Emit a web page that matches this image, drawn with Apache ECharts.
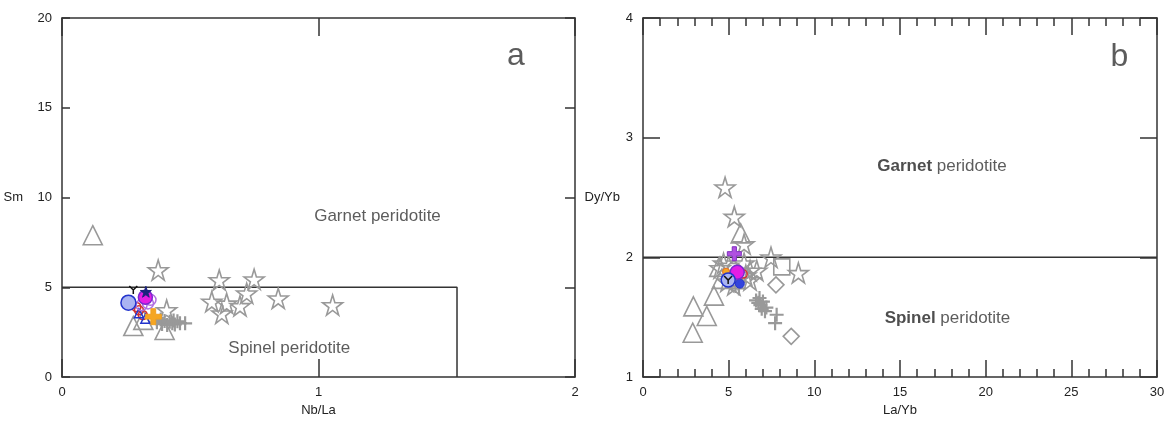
<!DOCTYPE html>
<html>
<head>
<meta charset="utf-8">
<script src="https://cdn.jsdelivr.net/npm/echarts@6/dist/echarts.min.js"></script>
<style>
  html, body { margin: 0; padding: 0; background: #fff; }
  #chart { width: 1168px; height: 424px; }
</style>
</head>
<body>
<div id="chart"></div>
<script>
// panel a : Sm vs Nb/La
const aStars = [[0.375, 5.96], [0.613, 5.40], [0.749, 5.44], [0.72, 4.66], [0.584, 4.2], [0.642, 4.1],
  [0.694, 3.96], [0.623, 3.55], [0.843, 4.38], [1.055, 4.01], [0.408, 3.73]];
const aTriangles = [[0.12, 7.9], [0.278, 2.84], [0.40, 2.62], [0.317, 3.18]];
const aPlus = [[0.37, 3.05], [0.39, 2.95], [0.40, 3.12], [0.41, 2.9], [0.42, 3.08], [0.43, 3.0],
  [0.44, 2.93], [0.45, 3.1], [0.46, 3.0], [0.48, 2.99], [0.385, 3.2], [0.435, 3.15]];
const aBlueCircle = [[0.259, 4.14]];
const aMagenta = [[0.325, 4.44]];
const aViolet = [[0.335, 4.1], [0.345, 4.3], [0.31, 4.0]];
const aRed = [[0.30, 3.72], [0.315, 3.45], [0.29, 3.9]];
const aBlue = [[0.3, 3.55], [0.325, 3.25]];
const aOrange = [[0.356, 3.36]];
const aNavyStar = [[0.327, 4.75]];
const aYmark = [[0.278, 4.85]];
const aBoundary = [[0, 5], [1.54, 5], [1.54, 0]];

// panel b : Dy/Yb vs La/Yb
const bStars = [[4.79, 2.585], [5.33, 2.34], [5.90, 2.11], [7.47, 2.0], [9.07, 1.87], [4.5, 1.91],
  [6.25, 1.89], [6.64, 1.89], [6.25, 1.81], [4.7, 1.95], [5.0, 1.93], [5.9, 1.95], [6.0, 1.85],
  [5.3, 1.77], [4.9, 1.8]];
const bTriangles = [[5.70, 2.20], [4.14, 1.68], [2.94, 1.59], [3.72, 1.51], [2.90, 1.37], [4.6, 1.82], [4.45, 1.92]];
const bSquares = [[8.10, 1.92]];
const bDiamonds = [[7.76, 1.77], [8.65, 1.34]];
const bPlus = [[6.73, 1.62], [6.93, 1.57], [7.12, 1.55], [7.80, 1.52], [7.71, 1.45], [6.6, 1.64],
  [6.85, 1.6], [7.0, 1.63], [7.2, 1.58], [6.8, 1.66], [5.4, 1.76], [5.6, 1.74]];
const bVioletPlus = [[5.33, 2.03]];
const bMagenta = [[5.5, 1.875]];
const bBlueCircle = [[4.97, 1.81]];
const bOrange = [[4.85, 1.88]];
const bRed = [[5.85, 1.86]];
const bBlue = [[5.65, 1.78]];
const bBoundary = [[0, 2], [30, 2]];

const xTicksA = [0, 1, 2];
const yTicksA = [0, 5, 10, 15, 20];
const xTicksB = [0, 5, 10, 15, 20, 25, 30];
const yTicksB = [1, 2, 3, 4];

const annotationsA = [
  { name: 'Garnet peridotite', value: [1.23, 8.94], size: 17 },
  { name: 'Spinel peridotite', value: [0.886, 1.6], size: 17 },
  { name: 'a', value: [1.77, 17.85], size: 32 }
];
const annotationsB = [
  { name: '{g|Garnet} peridotite', value: [17.45, 2.76], size: 17 },
  { name: '{g|Spinel} peridotite', value: [17.77, 1.49], size: 17 },
  { name: 'b', value: [27.8, 3.67], size: 32 }
];

const FONT = 'Liberation Sans, Arial, sans-serif';
const AXIS = '#333';
const GRAY = '#999';
const STAR = 'path://M50,0L61,35L98,35L68,57L79,91L50,70L21,91L32,57L2,35L39,35Z';
const PLUS = 'path://M5,0L5,10M0,5L10,5';
const FATPLUS = 'path://M35,0H65V35H100V65H65V100H35V65H0V35H35Z';
const YMARK = 'path://M0,0L5,5L10,0M5,5L5,10';

function scatter(idx, data, symbol, size, fill, stroke, width) {
  return {
    type: 'scatter',
    xAxisIndex: idx, yAxisIndex: idx,
    data: data,
    symbol: symbol,
    symbolSize: size,
    itemStyle: { color: fill, borderColor: stroke, borderWidth: width, opacity: 1 },
    emphasis: { disabled: true },
    z: 3
  };
}

function textSeries(idx, items) {
  return {
    type: 'scatter',
    xAxisIndex: idx, yAxisIndex: idx,
    symbolSize: 0,
    data: items.map(d => ({
      name: d.name, value: d.value,
      label: { fontSize: d.size }
    })),
    label: {
      show: true, position: 'inside', formatter: '{b}',
      color: '#333', fontFamily: FONT,
      rich: { g: { fontSize: 17, fontWeight: 'bold', color: '#222', fontFamily: FONT } }
    },
    z: 5
  };
}

function boundary(idx, data) {
  return {
    type: 'line', xAxisIndex: idx, yAxisIndex: idx,
    data: data, symbol: 'none',
    lineStyle: { color: AXIS, width: 1.5 },
    z: 2
  };
}

const lineStyle = { lineStyle: { color: AXIS, width: 1.5 }, onZero: false };
const labelStyle = { color: '#222', fontSize: 13, fontFamily: FONT };

function xAxis(grid, pos, ticks, len, opts) {
  return Object.assign({
    type: 'value', gridIndex: grid, position: pos,
    min: ticks[0], max: ticks[ticks.length - 1], interval: ticks[1] - ticks[0],
    axisLine: lineStyle,
    axisTick: { show: true, inside: true, length: len, lineStyle: { color: AXIS, width: 1.5 } },
    axisLabel: pos === 'bottom' ? Object.assign({ margin: 9 }, labelStyle) : { show: false },
    splitLine: { show: false }
  }, opts || {});
}

function yAxis(grid, pos, ticks, len, opts) {
  return Object.assign({
    type: 'value', gridIndex: grid, position: pos,
    min: ticks[0], max: ticks[ticks.length - 1], interval: ticks[1] - ticks[0],
    axisLine: lineStyle,
    axisTick: { show: true, inside: true, length: len, lineStyle: { color: AXIS, width: 1.5 } },
    axisLabel: pos === 'left' ? Object.assign({ margin: 10 }, labelStyle) : { show: false },
    splitLine: { show: false }
  }, opts || {});
}

const nameStyle = { color: '#222', fontSize: 13, fontFamily: FONT };
const minor = { minorTick: { show: true, splitNumber: 5, length: 8, lineStyle: { color: AXIS, width: 1.5 } } };

const option = {
  backgroundColor: '#fff',
  animation: false,
  grid: [
    { left: 62, top: 18, width: 513, height: 359 },
    { left: 643, top: 18, width: 514, height: 359 }
  ],
  xAxis: [
    xAxis(0, 'bottom', xTicksA, 18, { name: 'Nb/La', nameLocation: 'middle', nameGap: 26, nameTextStyle: nameStyle }),
    xAxis(1, 'bottom', xTicksB, 17, Object.assign({ name: 'La/Yb', nameLocation: 'middle', nameGap: 26, nameTextStyle: nameStyle }, minor)),
    xAxis(0, 'top', xTicksA, 18),
    xAxis(1, 'top', xTicksB, 17, minor)
  ],
  yAxis: [
    yAxis(0, 'left', yTicksA, 8, { name: 'Sm', nameLocation: 'middle', nameRotate: 0, nameGap: 39, nameTextStyle: nameStyle }),
    yAxis(1, 'left', yTicksB, 17, { name: 'Dy/Yb', nameLocation: 'middle', nameRotate: 0, nameGap: 23, nameTextStyle: nameStyle }),
    yAxis(0, 'right', yTicksA, 10),
    yAxis(1, 'right', yTicksB, 17)
  ],
  series: [
    boundary(0, aBoundary),
    boundary(1, bBoundary),
    scatter(0, aStars, STAR, 20, 'rgba(255,255,255,0)', GRAY, 1.6),
    scatter(0, aTriangles, 'triangle', 19, 'rgba(255,255,255,0)', GRAY, 1.6),
    scatter(0, aPlus, PLUS, 14, 'none', GRAY, 2.2),
    scatter(0, aRed, 'circle', 9, 'rgba(255,255,255,0)', '#d23030', 1.5),
    scatter(0, aBlue, 'triangle', 9, 'rgba(255,255,255,0)', '#2233cc', 1.5),
    scatter(0, aViolet, 'circle', 11, 'rgba(255,255,255,0)', '#b070e0', 1.5),
    scatter(0, aBlueCircle, 'circle', 15, '#aab4f2', '#2233cc', 1.5),
    scatter(0, aMagenta, 'circle', 14, '#e41ee4', '#7a28d0', 1.5),
    scatter(0, aOrange, FATPLUS, 16, '#f5a623', '#f0a020', 1),
    scatter(0, aNavyStar, STAR, 11, '#1a237e', '#1a237e', 1),
    scatter(0, aYmark, YMARK, 8, 'none', '#111', 1.5),
    scatter(1, bStars, STAR, 20, 'rgba(255,255,255,0)', GRAY, 1.6),
    scatter(1, bTriangles, 'triangle', 19, 'rgba(255,255,255,0)', GRAY, 1.6),
    scatter(1, bSquares, 'rect', 16, 'rgba(255,255,255,0)', GRAY, 1.6),
    scatter(1, bDiamonds, 'diamond', 16, 'rgba(255,255,255,0)', GRAY, 1.6),
    scatter(1, bPlus, PLUS, 14, 'none', GRAY, 2.2),
    scatter(1, bOrange, 'circle', 7, '#f5a623', '#f07020', 1),
    scatter(1, bRed, 'circle', 8, 'rgba(255,255,255,0)', '#d23030', 1.5),
    scatter(1, bBlue, 'circle', 9, '#3344dd', '#2233cc', 1),
    scatter(1, bVioletPlus, FATPLUS, 14, '#b050e0', '#8030c0', 1),
    scatter(1, bMagenta, 'circle', 14, '#e41ee4', '#7a28d0', 1.5),
    scatter(1, bBlueCircle, 'circle', 14, '#aab4f2', '#2233cc', 1.5),
    scatter(1, bBlueCircle, YMARK, 8, 'none', '#111', 1.5),
    textSeries(0, annotationsA),
    textSeries(1, annotationsB)
  ]
};

const chart = echarts.init(document.getElementById('chart'));
chart.setOption(option);
</script>
</body>
</html>
